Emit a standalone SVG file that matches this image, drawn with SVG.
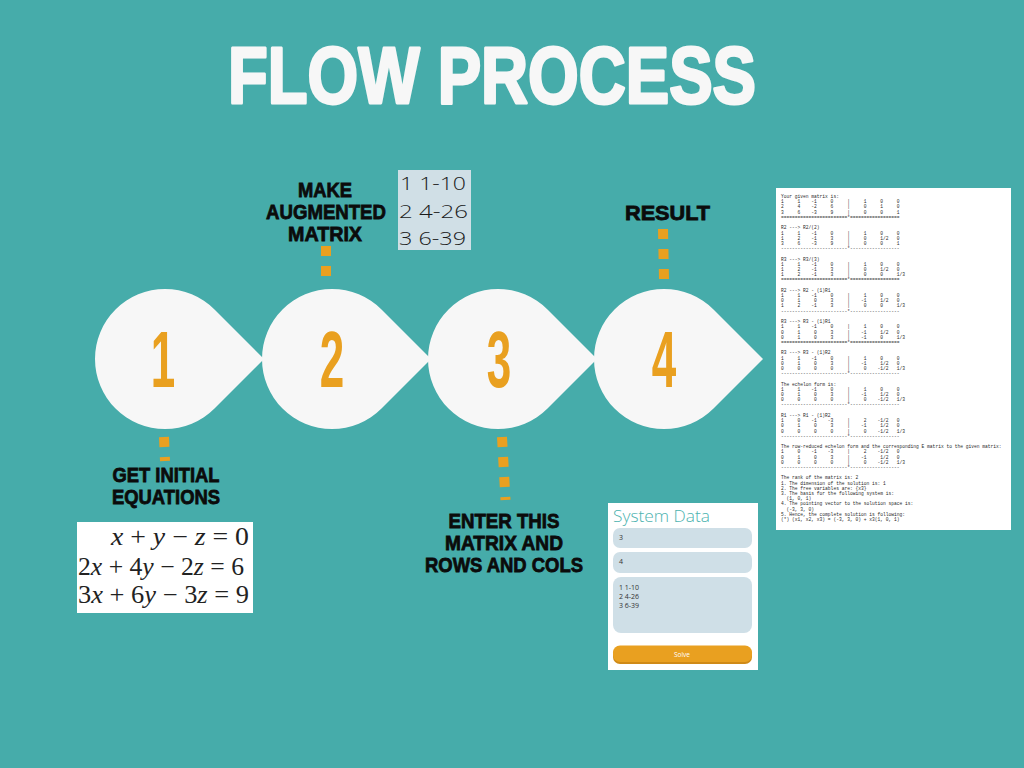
<svg xmlns="http://www.w3.org/2000/svg" width="1024" height="768" viewBox="0 0 1024 768">
  <style>
    .title { font-family: "Liberation Sans", Arial, sans-serif; font-weight: 900; font-size: 80px; fill: #F7F7F7; stroke: #F7F7F7; stroke-width: 3; stroke-linejoin: round; text-anchor: middle; }
    .drop { fill: #F7F7F7; }
    .digit { font-family: "Liberation Sans", Arial, sans-serif; font-weight: 700; font-size: 80px; fill: #E9A020; text-anchor: middle; }
    .lbl { font-family: "Liberation Sans", Arial, sans-serif; font-weight: 900; font-size: 21px; fill: #0B0B0B; stroke: #0B0B0B; stroke-width: 0.8; text-anchor: middle; }
    .dash { fill: none; stroke: #E9A020; stroke-width: 10; stroke-dasharray: 10 10; }
    .mtx { font-family: "Open Sans", "Noto Sans", sans-serif; font-weight: 300; font-size: 18px; fill: #1A1A1A; }
    .eq { font-family: "Liberation Serif", "Times New Roman", serif; font-size: 25px; fill: #222; }
    .eq .v { font-style: italic; }
    .ui { font-family: "Open Sans", "Noto Sans", sans-serif; }
    .field { fill: #CFDFE7; }
    .ftxt { font-family: "Open Sans", "Noto Sans", sans-serif; font-size: 7px; fill: #333; }
    .mono { font-family: "Liberation Mono", "DejaVu Sans Mono", monospace; font-size: 4.6px; fill: #2A2A2A; }
  </style>
  <defs>
    <!-- drop shape: circle r=70 with a point 99px to the right -->
    <path id="drop" d="M49.5,-49.5 L99,0 L49.5,49.5 A70,70 0 1 1 49.5,-49.5 Z"/>
    <!-- matrix rows of the solver log (non-breaking spaces keep the columns) -->
    <text id="rA" class="mono" x="781">1&#160;&#160;&#160;&#160;&#160;1&#160;&#160;&#160;&#160;-1&#160;&#160;&#160;&#160;&#160;0&#160;&#160;&#160;&#160;&#160;|&#160;&#160;&#160;&#160;&#160;1&#160;&#160;&#160;&#160;&#160;0&#160;&#160;&#160;&#160;&#160;0</text>
    <text id="rB" class="mono" x="781">2&#160;&#160;&#160;&#160;&#160;4&#160;&#160;&#160;&#160;-2&#160;&#160;&#160;&#160;&#160;6&#160;&#160;&#160;&#160;&#160;|&#160;&#160;&#160;&#160;&#160;0&#160;&#160;&#160;&#160;&#160;1&#160;&#160;&#160;&#160;&#160;0</text>
    <text id="rC" class="mono" x="781">3&#160;&#160;&#160;&#160;&#160;6&#160;&#160;&#160;&#160;-3&#160;&#160;&#160;&#160;&#160;9&#160;&#160;&#160;&#160;&#160;|&#160;&#160;&#160;&#160;&#160;0&#160;&#160;&#160;&#160;&#160;0&#160;&#160;&#160;&#160;&#160;1</text>
    <text id="rD" class="mono" x="781">1&#160;&#160;&#160;&#160;&#160;2&#160;&#160;&#160;&#160;-1&#160;&#160;&#160;&#160;&#160;3&#160;&#160;&#160;&#160;&#160;|&#160;&#160;&#160;&#160;&#160;0&#160;&#160;&#160;&#160;&#160;1/2&#160;&#160;&#160;0</text>
    <text id="rE" class="mono" x="781">1&#160;&#160;&#160;&#160;&#160;2&#160;&#160;&#160;&#160;-1&#160;&#160;&#160;&#160;&#160;3&#160;&#160;&#160;&#160;&#160;|&#160;&#160;&#160;&#160;&#160;0&#160;&#160;&#160;&#160;&#160;0&#160;&#160;&#160;&#160;&#160;1/3</text>
    <text id="rF" class="mono" x="781">0&#160;&#160;&#160;&#160;&#160;1&#160;&#160;&#160;&#160;&#160;0&#160;&#160;&#160;&#160;&#160;3&#160;&#160;&#160;&#160;&#160;|&#160;&#160;&#160;&#160;-1&#160;&#160;&#160;&#160;&#160;1/2&#160;&#160;&#160;0</text>
    <text id="rG" class="mono" x="781">0&#160;&#160;&#160;&#160;&#160;1&#160;&#160;&#160;&#160;&#160;0&#160;&#160;&#160;&#160;&#160;3&#160;&#160;&#160;&#160;&#160;|&#160;&#160;&#160;&#160;-1&#160;&#160;&#160;&#160;&#160;0&#160;&#160;&#160;&#160;&#160;1/3</text>
    <text id="rH" class="mono" x="781">0&#160;&#160;&#160;&#160;&#160;0&#160;&#160;&#160;&#160;&#160;0&#160;&#160;&#160;&#160;&#160;0&#160;&#160;&#160;&#160;&#160;|&#160;&#160;&#160;&#160;&#160;0&#160;&#160;&#160;&#160;-1/2&#160;&#160;&#160;1/3</text>
    <text id="rI" class="mono" x="781">1&#160;&#160;&#160;&#160;&#160;0&#160;&#160;&#160;&#160;-1&#160;&#160;&#160;&#160;-3&#160;&#160;&#160;&#160;&#160;|&#160;&#160;&#160;&#160;&#160;2&#160;&#160;&#160;&#160;-1/2&#160;&#160;&#160;0</text>
    <text id="sEq" class="mono" x="781">========================*==================</text>
    <text id="sDash" class="mono" x="781">------------------------*------------------</text>
  </defs>

  <rect width="1024" height="768" fill="#46ACAA"/>

  <text class="title" x="492" y="103" textLength="528" lengthAdjust="spacingAndGlyphs">FLOW PROCESS</text>

  <!-- connectors -->
  <g id="connectors">
    <path class="dash" d="M164,437 L165,461"/>
    <path class="dash" d="M326,246 L326,276"/>
    <path class="dash" d="M502,437 L505.5,500"/>
    <path class="dash" d="M663,229 L664,279"/>
  </g>

  <g id="step1">
    <use href="#drop" class="drop" x="165" y="359"/>
    <text class="digit" transform="translate(163,387) scale(0.55,1)">1</text>
    <text class="lbl" x="166" y="482" textLength="107" lengthAdjust="spacingAndGlyphs">GET INITIAL</text>
    <text class="lbl" x="166" y="504" textLength="108" lengthAdjust="spacingAndGlyphs">EQUATIONS</text>
    <rect x="77" y="522" width="176" height="91" fill="#FFFFFF"/>
    <text class="eq" x="111" y="545" textLength="138" lengthAdjust="spacingAndGlyphs"><tspan class="v">x</tspan> + <tspan class="v">y</tspan> − <tspan class="v">z</tspan> =  0</text>
    <text class="eq" x="78" y="575" textLength="166" lengthAdjust="spacingAndGlyphs">2<tspan class="v">x</tspan> + 4<tspan class="v">y</tspan> − 2<tspan class="v">z</tspan> = 6</text>
    <text class="eq" x="78" y="603" textLength="171" lengthAdjust="spacingAndGlyphs">3<tspan class="v">x</tspan> + 6<tspan class="v">y</tspan> − 3<tspan class="v">z</tspan> =  9</text>
  </g>

  <g id="step2">
    <use href="#drop" class="drop" x="332" y="359"/>
    <text class="digit" transform="translate(332,387) scale(0.55,1)">2</text>
    <text class="lbl" x="325" y="197" textLength="54" lengthAdjust="spacingAndGlyphs">MAKE</text>
    <text class="lbl" x="326" y="219" textLength="120" lengthAdjust="spacingAndGlyphs">AUGMENTED</text>
    <text class="lbl" x="325" y="241" textLength="74" lengthAdjust="spacingAndGlyphs">MATRIX</text>
    <rect x="398" y="170" width="73" height="80" fill="#D0DFE6"/>
    <text class="mtx" x="400" y="190" textLength="66" lengthAdjust="spacingAndGlyphs">1 1-10</text>
    <text class="mtx" x="399" y="218" textLength="69" lengthAdjust="spacingAndGlyphs">2 4-26</text>
    <text class="mtx" x="399" y="245" textLength="67" lengthAdjust="spacingAndGlyphs">3 6-39</text>
  </g>

  <g id="step3">
    <use href="#drop" class="drop" x="498" y="359"/>
    <text class="digit" transform="translate(499,387) scale(0.55,1)">3</text>
    <text class="lbl" x="504" y="528" textLength="111" lengthAdjust="spacingAndGlyphs">ENTER THIS</text>
    <text class="lbl" x="504" y="550" textLength="118" lengthAdjust="spacingAndGlyphs">MATRIX AND</text>
    <text class="lbl" x="504" y="572" textLength="158" lengthAdjust="spacingAndGlyphs">ROWS AND COLS</text>
    <!-- input form -->
    <rect x="608" y="503" width="150" height="167" fill="#FFFFFF"/>
    <text class="ui" x="613" y="522" font-size="17" font-weight="300" fill="#4DB3B0" textLength="97" lengthAdjust="spacingAndGlyphs">System Data</text>
    <rect class="field" x="613" y="528" width="139" height="20" rx="7"/>
    <text class="ftxt" x="619" y="540">3</text>
    <rect class="field" x="613" y="552" width="139" height="21" rx="7"/>
    <text class="ftxt" x="619" y="564">4</text>
    <rect class="field" x="613" y="577" width="139" height="56" rx="8"/>
    <text class="ftxt" x="619" y="590">1 1-10</text>
    <text class="ftxt" x="619" y="599">2 4-26</text>
    <text class="ftxt" x="619" y="608">3 6-39</text>
    <rect x="613" y="647" width="139" height="17" rx="7" fill="#CF8A17"/>
    <rect x="613" y="645.5" width="139" height="16.5" rx="7" fill="#E9A020"/>
    <text class="ui" x="682" y="656.5" font-size="6.5" fill="#FFFFFF" text-anchor="middle">Solve</text>
  </g>

  <g id="step4">
    <use href="#drop" class="drop" x="664" y="359"/>
    <text class="digit" transform="translate(664,387) scale(0.55,1)">4</text>
    <text class="lbl" x="667.5" y="220" textLength="85" lengthAdjust="spacingAndGlyphs">RESULT</text>
    <!-- solver output -->
    <rect x="776" y="188" width="235" height="342" fill="#FFFFFF"/>
    <g class="mono">
      <text x="781" y="198">Your given matrix is:</text>
      <use href="#rA" y="203.2"/>
      <use href="#rB" y="208.4"/>
      <use href="#rC" y="213.6"/>
      <use href="#sEq" y="218.8"/>
      <text x="781" y="229.3">R2 ---&gt; R2/(2)</text>
      <use href="#rA" y="234.5"/>
      <use href="#rD" y="239.7"/>
      <use href="#rC" y="244.9"/>
      <use href="#sDash" y="250.1"/>
      <text x="781" y="260.5">R3 ---&gt; R3/(3)</text>
      <use href="#rA" y="265.7"/>
      <use href="#rD" y="271"/>
      <use href="#rE" y="276.2"/>
      <use href="#sEq" y="281.4"/>
      <text x="781" y="291.8">R2 ---&gt; R2 - (1)R1</text>
      <use href="#rA" y="297"/>
      <use href="#rF" y="302.2"/>
      <use href="#rE" y="307.4"/>
      <use href="#sDash" y="312.6"/>
      <text x="781" y="323">R3 ---&gt; R3 - (1)R1</text>
      <use href="#rA" y="328.3"/>
      <use href="#rF" y="333.5"/>
      <use href="#rG" y="338.7"/>
      <use href="#sEq" y="343.9"/>
      <text x="781" y="354.3">R3 ---&gt; R3 - (1)R2</text>
      <use href="#rA" y="359.5"/>
      <use href="#rF" y="364.7"/>
      <use href="#rH" y="369.9"/>
      <use href="#sDash" y="375.2"/>
      <text x="781" y="385.6">The echelon form is:</text>
      <use href="#rA" y="390.8"/>
      <use href="#rF" y="396"/>
      <use href="#rH" y="401.2"/>
      <use href="#sDash" y="406.4"/>
      <text x="781" y="416.8">R1 ---&gt; R1 - (1)R2</text>
      <use href="#rI" y="422"/>
      <use href="#rF" y="427.3"/>
      <use href="#rH" y="432.5"/>
      <use href="#sDash" y="437.7"/>
      <text x="781" y="448.1">The row-reduced echelon form and the corresponding E matrix to the given matrix:</text>
      <use href="#rI" y="453.3"/>
      <use href="#rF" y="458.5"/>
      <use href="#rH" y="463.7"/>
      <use href="#sDash" y="468.9"/>
      <text x="781" y="479.3">The rank of the matrix is: 2</text>
      <text x="781" y="484.5">1. The dimension of the solution is: 1</text>
      <text x="781" y="489.8">2. The free variables are: {x3}</text>
      <text x="781" y="495">3. The basis for the following system is:</text>
      <text x="781" y="500.2">&#160;&#160;(1, 0, 1)</text>
      <text x="781" y="505.4">4. The pointing vector to the solution space is:</text>
      <text x="781" y="510.6">&#160;&#160;(-3, 3, 0)</text>
      <text x="781" y="515.8">5. Hence, the complete solution is following:</text>
      <text x="781" y="521">(*) (x1, x2, x3) = (-3, 3, 0) + x3(1, 0, 1)</text>
    </g>
  </g>
</svg>
